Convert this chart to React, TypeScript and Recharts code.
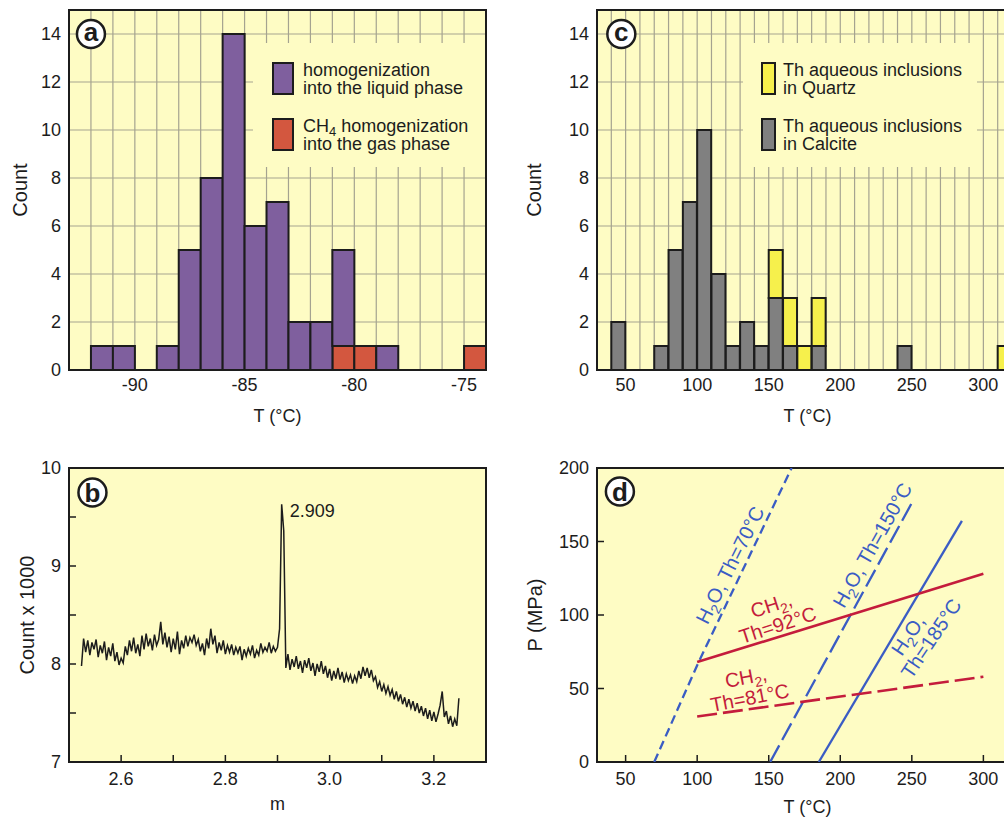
import React from 'react';
import {
  BarChart, Bar, LineChart, Line, XAxis, YAxis, CartesianGrid,
  ReferenceArea, ReferenceDot, Legend,
} from 'recharts';

const BG = '#FEFCC4';
const GRID = '#A5A390';
const INK = '#1c1c1c';
const PURPLE = '#7F5F9E';
const RED_A = '#D3573F';
const GRAY = '#808080';
const YELLOW = '#F6F04C';
const BLUE = '#3A5CC4';
const RED_D = '#C41C3C';
const FONT = '"Liberation Sans", Arial, Helvetica, sans-serif';

// ---------- Panel a ----------
const binStartsA = [-93, -92, -91, -90, -89, -88, -87, -86, -85, -84, -83, -82, -81, -80, -79, -78, -77, -76, -75];
const binWidthA = 1;
const liquidA = [0, 1, 1, 0, 1, 5, 8, 14, 6, 7, 2, 2, 4, 0, 1, 0, 0, 0, 0];
const gasA = [0, 0, 0, 0, 0, 0, 0, 0, 0, 0, 0, 0, 1, 1, 0, 0, 0, 0, 1];
const xDomainA = [-93, -74];
const gridXA = [-93, -92, -91, -90, -89, -88, -87, -86, -85, -84, -83, -82, -81, -80, -79, -78, -77, -76, -75, -74];
const xTicksA = [-90, -85, -80, -75];
const yTicksCount = [0, 2, 4, 6, 8, 10, 12, 14];
const legendA = [
  { color: PURPLE, lines: ['homogenization', 'into the liquid phase'] },
  { color: RED_A, lines: ['CH_4 homogenization', 'into the gas phase'] },
];

// ---------- Panel c ----------
const binStartsC = [30, 40, 50, 60, 70, 80, 90, 100, 110, 120, 130, 140, 150, 160, 170, 180, 190, 200, 210, 220, 230, 240, 250, 260, 270, 280, 290, 300, 310];
const binWidthC = 10;
const calciteC = [0, 2, 0, 0, 1, 5, 7, 10, 4, 1, 2, 1, 3, 1, 0, 1, 0, 0, 0, 0, 0, 1, 0, 0, 0, 0, 0, 0, 0];
const quartzC = [0, 0, 0, 0, 0, 0, 0, 0, 0, 0, 0, 0, 2, 2, 1, 2, 0, 0, 0, 0, 0, 0, 0, 0, 0, 0, 0, 0, 1];
const xDomainC = [30, 320];
const gridXC = [30, 40, 50, 60, 70, 80, 90, 100, 110, 120, 130, 140, 150, 160, 170, 180, 190, 200, 210, 220, 230, 240, 250, 260, 270, 280, 290, 300, 310, 320];
const xTicksC = [50, 100, 150, 200, 250, 300];
const legendC = [
  { color: YELLOW, lines: ['Th aqueous inclusions', 'in Quartz'] },
  { color: GRAY, lines: ['Th aqueous inclusions', 'in Calcite'] },
];

// ---------- Panel b ----------
const SPEC_START = 2.524;
const SPEC_STEP = 0.004;
const specCounts = [
  7.98, 8.26, 8.12, 8.24, 8.09, 8.22, 8.15, 8.25, 8.07, 8.19,
  8.11, 8.23, 8.04, 8.17, 8.08, 8.21, 8.03, 8.12, 7.99, 8.06,
  8.01, 8.18, 8.09, 8.24, 8.13, 8.27, 8.11, 8.20, 8.08, 8.29,
  8.15, 8.31, 8.18, 8.26, 8.14, 8.30, 8.19, 8.25, 8.43, 8.20,
  8.32, 8.17, 8.28, 8.12, 8.26, 8.15, 8.33, 8.10, 8.24, 8.16,
  8.29, 8.18, 8.27, 8.22, 8.30, 8.19, 8.25, 8.13, 8.21, 8.09,
  8.26, 8.16, 8.36, 8.20, 8.29, 8.11, 8.22, 8.14, 8.24, 8.10,
  8.19, 8.12, 8.20, 8.09, 8.17, 8.11, 8.18, 8.04, 8.15, 8.08,
  8.16, 8.10, 8.19, 8.06, 8.14, 8.09, 8.21, 8.12, 8.17, 8.13,
  8.22, 8.11, 8.18, 8.13, 8.17, 8.36, 9.63, 9.36, 7.96, 8.10,
  7.94, 8.05, 7.97, 8.08, 7.95, 8.03, 7.91, 8.04, 7.96, 8.06,
  7.93, 8.01, 7.88, 8.00, 7.92, 8.03, 7.90, 7.98, 7.86, 7.95,
  7.83, 7.93, 7.85, 7.96, 7.84, 7.92, 7.81, 7.90, 7.83, 7.89,
  7.80, 7.88, 7.82, 7.93, 7.85, 7.97, 7.88, 7.96, 7.86, 7.94,
  7.83, 7.87, 7.76, 7.82, 7.72, 7.79, 7.70, 7.77, 7.68, 7.74,
  7.64, 7.72, 7.62, 7.69, 7.59, 7.66, 7.56, 7.64, 7.55, 7.62,
  7.52, 7.60, 7.50, 7.57, 7.47, 7.55, 7.44, 7.53, 7.42, 7.51,
  7.41, 7.49, 7.58, 7.72, 7.46, 7.52, 7.39, 7.47, 7.36, 7.44,
  7.37, 7.65,
];
const xDomainB = [2.5, 3.3];
const xTicksB = [2.6, 2.7, 2.8, 2.9, 3.0, 3.1, 3.2];
const xLabelsB = [2.6, 2.8, 3.0, 3.2];
const yDomainB = [7, 10];
const yTicksB = [7, 7.5, 8, 8.5, 9, 9.5, 10];
const yLabelsB = [7, 8, 9, 10];
const peakM = 2.908;
const peakCount = 9.63;
const peakLabel = '2.909';

// ---------- Panel d ----------
const h2o70 = [{ T: 70, P: 0 }, { T: 101, P: 68 }, { T: 166, P: 200 }];
const h2o150 = [{ T: 151, P: 0 }, { T: 251, P: 178 }];
const h2o185 = [{ T: 185, P: 0 }, { T: 285, P: 164 }];
const ch2_92 = [{ T: 100, P: 68 }, { T: 300, P: 128 }];
const ch2_81 = [{ T: 100, P: 31 }, { T: 300, P: 58 }];
const xDomainD = [30, 320];
const xTicksD = [50, 100, 150, 200, 250, 300];
const yDomainD = [0, 200];
const yTicksD = [0, 50, 100, 150, 200];
const annotationsD = [
  { T: 122.9, P: 134, angle: -63.4, color: BLUE, lines: ['H_2O, Th=70°C'], shifts: [0] },
  { T: 222.4, P: 147.6, angle: -60.5, color: BLUE, lines: ['H_2O, Th=150°C'], shifts: [0] },
  { T: 255.4, P: 85.2, angle: -56, color: BLUE, lines: ['H_2O,', 'Th=185°C'], shifts: [-5, 5] },
  { T: 154, P: 100, angle: -18, color: RED_D, lines: ['CH_2,', 'Th=92°C'], shifts: [0, 0] },
  { T: 135.4, P: 50.8, angle: -11, color: RED_D, lines: ['CH_2,', 'Th=81°C'], shifts: [0, 0] },
];

// ---------- helpers ----------
function rich(s: string, subSize: number, shift: number) {
  const parts = s.split(/_(\d)/);
  return parts.map((p, i) =>
    i % 2 === 1 ? (
      <tspan key={i} dy={shift} fontSize={subSize}>{p}</tspan>
    ) : (
      <tspan key={i} dy={i > 0 ? -shift : undefined}>{p}</tspan>
    ),
  );
}

const badge = (letter: string) => (p: any) => {
  const tall = /[bd]/.test(letter);
  return (
    <g>
      <circle cx={p.cx} cy={p.cy} r={14} fill="#fff" stroke={INK} strokeWidth={2.5} />
      <text x={p.cx} y={p.cy + (tall ? 9.5 : 7)} textAnchor="middle" fontSize={26} fontWeight="bold" fill={INK}>
        {letter}
      </text>
    </g>
  );
};

const annotShape = (a: typeof annotationsD[number]) => (p: any) => {
  const L = 21;
  const n = a.lines.length;
  return (
    <g transform={`translate(${p.cx},${p.cy}) rotate(${a.angle})`}>
      {a.lines.map((ln, k) => (
        <text key={k} x={a.shifts[k]} y={(k - (n - 1) / 2) * L + 7} textAnchor="middle" fontSize={20} fill={a.color}>
          {rich(ln, 14, 5)}
        </text>
      ))}
    </g>
  );
};

function LegendBox({ items, w, h, swX, swW, textX }: any) {
  return (
    <svg width={w} height={h} style={{ display: 'block' }}>
      {items.map((it: any, i: number) => (
        <g key={i}>
          <rect x={swX} y={20 + i * 56} width={swW} height={31} fill={it.color} stroke={INK} strokeWidth={2} />
          <text x={textX} y={33 + i * 56} fontSize={18} fill={INK}>{rich(it.lines[0], 13, 4)}</text>
          <text x={textX} y={51 + i * 56} fontSize={18} fill={INK}>{rich(it.lines[1], 13, 4)}</text>
        </g>
      ))}
    </svg>
  );
}

const tickStyle = { fontSize: 18, fill: INK };

// ---------- Panels ----------
function PanelA() {
  const data = binStartsA.map((b, i) => ({ mid: b + binWidthA / 2, liquid: liquidA[i], gas: gasA[i] }));
  return (
    <BarChart width={500} height={430} data={data} margin={{ top: 10, right: 14, bottom: 5, left: 0 }} barCategoryGap={0} barGap={0}>
      <XAxis
        type="number" dataKey="mid" domain={xDomainA} ticks={xTicksA} allowDataOverflow interval={0}
        height={55} tickLine={false} axisLine={false} tick={tickStyle}
        label={{ value: 'T (°C)', position: 'insideBottom', offset: 3, fontSize: 18, fill: INK }}
      />
      <YAxis
        type="number" domain={[0, 15]} ticks={yTicksCount} allowDataOverflow interval={0}
        width={69} tickLine={false} axisLine={false} tick={tickStyle}
        label={{ value: 'Count', angle: -90, position: 'insideLeft', offset: 20, fontSize: 20, fill: INK, style: { textAnchor: 'middle' } }}
      />
      <CartesianGrid fill={BG} stroke={GRID} strokeWidth={1.2} verticalValues={gridXA} horizontalValues={yTicksCount} />
      <Bar dataKey="gas" stackId="s" fill={RED_A} stroke={INK} strokeWidth={2} isAnimationActive={false} />
      <Bar dataKey="liquid" stackId="s" fill={PURPLE} stroke={INK} strokeWidth={2} isAnimationActive={false} />
      <ReferenceArea x1={xDomainA[0]} x2={xDomainA[1]} y1={0} y2={15} fill="none" stroke={INK} strokeWidth={2} ifOverflow="visible" />
      <ReferenceDot x={-92} y={14} r={14} ifOverflow="visible" shape={badge('a')} />
      <Legend
        layout="horizontal" verticalAlign="middle" align="center"
        wrapperStyle={{ left: 253, top: 43, width: 232, height: 124, background: BG }}
        content={() => <LegendBox items={legendA} w={232} h={124} swX={20} swW={20} textX={50} />}
      />
    </BarChart>
  );
}

function PanelC() {
  const data = binStartsC.map((b, i) => ({ mid: b + binWidthC / 2, calcite: calciteC[i], quartz: quartzC[i] }));
  return (
    <BarChart width={505} height={430} data={data} margin={{ top: 10, right: 10, bottom: 5, left: 0 }} barCategoryGap={0} barGap={0}>
      <XAxis
        type="number" dataKey="mid" domain={xDomainC} ticks={xTicksC} allowDataOverflow interval={0}
        height={55} tickLine={false} axisLine={false} tick={tickStyle}
        label={{ value: 'T (°C)', position: 'insideBottom', offset: 3, dx: 3, fontSize: 18, fill: INK }}
      />
      <YAxis
        type="number" domain={[0, 15]} ticks={yTicksCount} allowDataOverflow interval={0}
        width={80} tickLine={false} axisLine={false} tick={tickStyle}
        label={{ value: 'Count', angle: -90, position: 'insideLeft', offset: 17, fontSize: 20, fill: INK, style: { textAnchor: 'middle' } }}
      />
      <CartesianGrid fill={BG} stroke={GRID} strokeWidth={1.2} verticalValues={gridXC} horizontalValues={yTicksCount} />
      <Bar dataKey="calcite" stackId="s" fill={GRAY} stroke={INK} strokeWidth={2} isAnimationActive={false} />
      <Bar dataKey="quartz" stackId="s" fill={YELLOW} stroke={INK} strokeWidth={2} isAnimationActive={false} />
      <ReferenceArea x1={xDomainC[0]} x2={xDomainC[1]} y1={0} y2={15} fill="none" stroke={INK} strokeWidth={2} ifOverflow="visible" />
      <ReferenceDot x={47} y={14} r={14} ifOverflow="visible" shape={badge('c')} />
      <Legend
        layout="horizontal" verticalAlign="middle" align="center"
        wrapperStyle={{ left: 226, top: 43, width: 234, height: 124, background: BG }}
        content={() => <LegendBox items={legendC} w={234} h={124} swX={19} swW={13} textX={40} />}
      />
    </BarChart>
  );
}

function PanelB() {
  const data = specCounts.map((c, i) => ({ m: +(SPEC_START + i * SPEC_STEP).toFixed(3), c }));
  const fmtX = (v: number) => (xLabelsB.some((l) => Math.abs(l - v) < 1e-9) ? v.toFixed(1) : '');
  const fmtY = (v: number) => (yLabelsB.some((l) => Math.abs(l - v) < 1e-9) ? String(v) : '');
  return (
    <LineChart width={500} height={380} data={data} margin={{ top: 28, right: 14, bottom: 8, left: 0 }}>
      <CartesianGrid horizontal={false} vertical={false} fill={BG} />
      <XAxis
        type="number" dataKey="m" domain={xDomainB} ticks={xTicksB} allowDataOverflow interval={0}
        height={50} tickSize={-7} tickMargin={17} axisLine={false} tickLine={{ stroke: INK, strokeWidth: 1.5 }}
        tick={tickStyle} tickFormatter={fmtX}
        label={{ value: 'm', position: 'insideBottom', offset: 2, fontSize: 18, fill: INK }}
      />
      <YAxis
        type="number" domain={yDomainB} ticks={yTicksB} allowDataOverflow interval={0}
        width={69} tickSize={-7} tickMargin={15} axisLine={false} tickLine={{ stroke: INK, strokeWidth: 1.5 }}
        tick={tickStyle} tickFormatter={fmtY}
        label={{ value: 'Count x 1000', angle: -90, position: 'insideLeft', offset: 27, fontSize: 20, fill: INK, style: { textAnchor: 'middle' } }}
      />
      <Line type="linear" dataKey="c" stroke={INK} strokeWidth={1.5} dot={false} activeDot={false} isAnimationActive={false} />
      <ReferenceArea x1={xDomainB[0]} x2={xDomainB[1]} y1={yDomainB[0]} y2={yDomainB[1]} fill="none" stroke={INK} strokeWidth={2} ifOverflow="visible" />
      <ReferenceDot
        x={peakM} y={peakCount} r={1} ifOverflow="visible"
        shape={(p: any) => (
          <text x={p.cx + 8} y={p.cy + 13} fontSize={18} fill={INK}>{peakLabel}</text>
        )}
      />
      <ReferenceDot x={2.545} y={9.75} r={14} ifOverflow="visible" shape={badge('b')} />
    </LineChart>
  );
}

function PanelD() {
  return (
    <LineChart width={505} height={380} margin={{ top: 28, right: 10, bottom: 5, left: 0 }}>
      <CartesianGrid horizontal={false} vertical={false} fill={BG} />
      <XAxis
        type="number" dataKey="T" domain={xDomainD} ticks={xTicksD} allowDataOverflow interval={0}
        height={53} tickSize={-7} tickMargin={17} axisLine={false} tickLine={{ stroke: INK, strokeWidth: 1.5 }}
        tick={tickStyle}
        label={{ value: 'T (°C)', position: 'insideBottom', offset: 2, dx: 3, fontSize: 18, fill: INK }}
      />
      <YAxis
        type="number" domain={yDomainD} ticks={yTicksD} allowDataOverflow interval={0}
        width={80} tickSize={-7} tickMargin={15} axisLine={false} tickLine={{ stroke: INK, strokeWidth: 1.5 }}
        tick={tickStyle}
        label={{ value: 'P (MPa)', angle: -90, position: 'insideLeft', offset: 18, fontSize: 20, fill: INK, style: { textAnchor: 'middle' } }}
      />
      <Line data={h2o70} type="linear" dataKey="P" stroke={BLUE} strokeWidth={2.3} strokeDasharray="9 5" dot={false} activeDot={false} isAnimationActive={false} />
      <Line data={h2o150} type="linear" dataKey="P" stroke={BLUE} strokeWidth={2.3} strokeDasharray="19 6" dot={false} activeDot={false} isAnimationActive={false} />
      <Line data={h2o185} type="linear" dataKey="P" stroke={BLUE} strokeWidth={2.3} dot={false} activeDot={false} isAnimationActive={false} />
      <Line data={ch2_92} type="linear" dataKey="P" stroke={RED_D} strokeWidth={2.6} dot={false} activeDot={false} isAnimationActive={false} />
      <Line data={ch2_81} type="linear" dataKey="P" stroke={RED_D} strokeWidth={2.6} strokeDasharray="20 6" dot={false} activeDot={false} isAnimationActive={false} />
      {annotationsD.map((a, i) => (
        <ReferenceDot key={i} x={a.T} y={a.P} r={1} ifOverflow="visible" shape={annotShape(a)} />
      ))}
      <ReferenceArea x1={xDomainD[0]} x2={xDomainD[1]} y1={yDomainD[0]} y2={yDomainD[1]} fill="none" stroke={INK} strokeWidth={2} ifOverflow="visible" />
      <ReferenceDot x={46} y={184} r={14} ifOverflow="visible" shape={badge('d')} />
    </LineChart>
  );
}

export default function App() {
  return (
    <div style={{ position: 'absolute', left: 0, top: 0, width: 1004, height: 819, overflow: 'hidden', background: '#fff', fontFamily: FONT }}>
      <div style={{ position: 'absolute', left: 0, top: 0 }}><PanelA /></div>
      <div style={{ position: 'absolute', left: 517, top: 0 }}><PanelC /></div>
      <div style={{ position: 'absolute', left: 0, top: 440 }}><PanelB /></div>
      <div style={{ position: 'absolute', left: 517, top: 440 }}><PanelD /></div>
    </div>
  );
}
